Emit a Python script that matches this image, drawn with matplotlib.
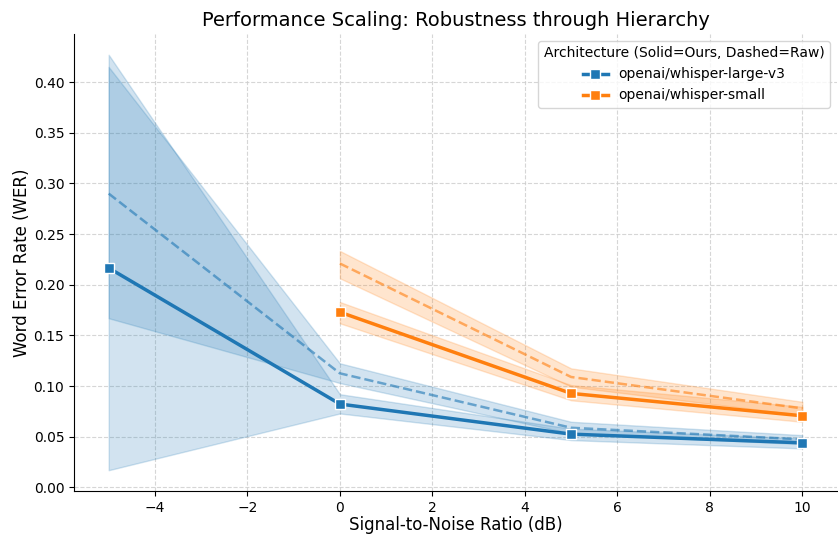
import matplotlib
matplotlib.use("Agg")
import matplotlib.pyplot as plt
import numpy as np

snr_large = [-5, 0, 5, 10]
snr_small = [0, 5, 10]

# whisper-large-v3
large_ours = [0.2166, 0.0823, 0.0526, 0.0440]
large_ours_lo = [0.017, 0.073, 0.0467, 0.0385]
large_ours_hi = [0.427, 0.092, 0.058, 0.0484]
large_raw = [0.290, 0.1126, 0.0589, 0.0474]
large_raw_lo = [0.167, 0.103, 0.0533, 0.0428]
large_raw_hi = [0.415, 0.1225, 0.0648, 0.0516]

# whisper-small
small_ours = [0.173, 0.0928, 0.0707]
small_ours_lo = [0.162, 0.086, 0.0648]
small_ours_hi = [0.183, 0.101, 0.0796]
small_raw = [0.221, 0.109, 0.078]
small_raw_lo = [0.2064, 0.0994, 0.0714]
small_raw_hi = [0.2334, 0.1175, 0.0845]

models = ["openai/whisper-large-v3", "openai/whisper-small"]
colors = ["#1f77b4", "#ff7f0e"]

fig = plt.figure(figsize=(8.38, 5.37), dpi=100)
ax = fig.add_axes([0.0883, 0.0857, 0.9105, 0.851])

series = [
    (snr_large, large_ours, large_ours_lo, large_ours_hi, large_raw, large_raw_lo, large_raw_hi),
    (snr_small, small_ours, small_ours_lo, small_ours_hi, small_raw, small_raw_lo, small_raw_hi),
]
handles = []
for (x, o, olo, ohi, r, rlo, rhi), name, c in zip(series, models, colors):
    ax.fill_between(x, rlo, rhi, color=c, alpha=0.2, linewidth=1, edgecolor=c)
    ax.plot(x, r, color=c, linestyle="--", linewidth=1.8, alpha=0.6)
    ax.fill_between(x, olo, ohi, color=c, alpha=0.2, linewidth=1, edgecolor=c)
    h, = ax.plot(x, o, color=c, linestyle="-", linewidth=2.5, marker="s",
                 markersize=7, markeredgecolor="white", markeredgewidth=1, label=name)
    handles.append(h)

ax.set_xlim(-5.75, 10.75)
ax.set_ylim(-0.0035, 0.4475)
ax.set_xticks([-4, -2, 0, 2, 4, 6, 8, 10])
ax.set_yticks(np.arange(0, 0.41, 0.05))
ax.yaxis.set_major_formatter(matplotlib.ticker.FormatStrFormatter("%.2f"))
ax.grid(True, linestyle="--", color="#cccccc", alpha=0.8, linewidth=0.8)
ax.set_axisbelow(True)
for s in ["top", "right"]:
    ax.spines[s].set_visible(False)

ax.set_title("Performance Scaling: Robustness through Hierarchy", fontsize=14)
ax.set_xlabel("Signal-to-Noise Ratio (dB)", fontsize=12, labelpad=1)
ax.set_ylabel("Word Error Rate (WER)", fontsize=12, labelpad=2)
ax.legend(handles=handles, title="Architecture (Solid=Ours, Dashed=Raw)",
          loc="upper right", fontsize=10, title_fontsize=10, handlelength=1.8)

fig.savefig("out.png", dpi=100)
